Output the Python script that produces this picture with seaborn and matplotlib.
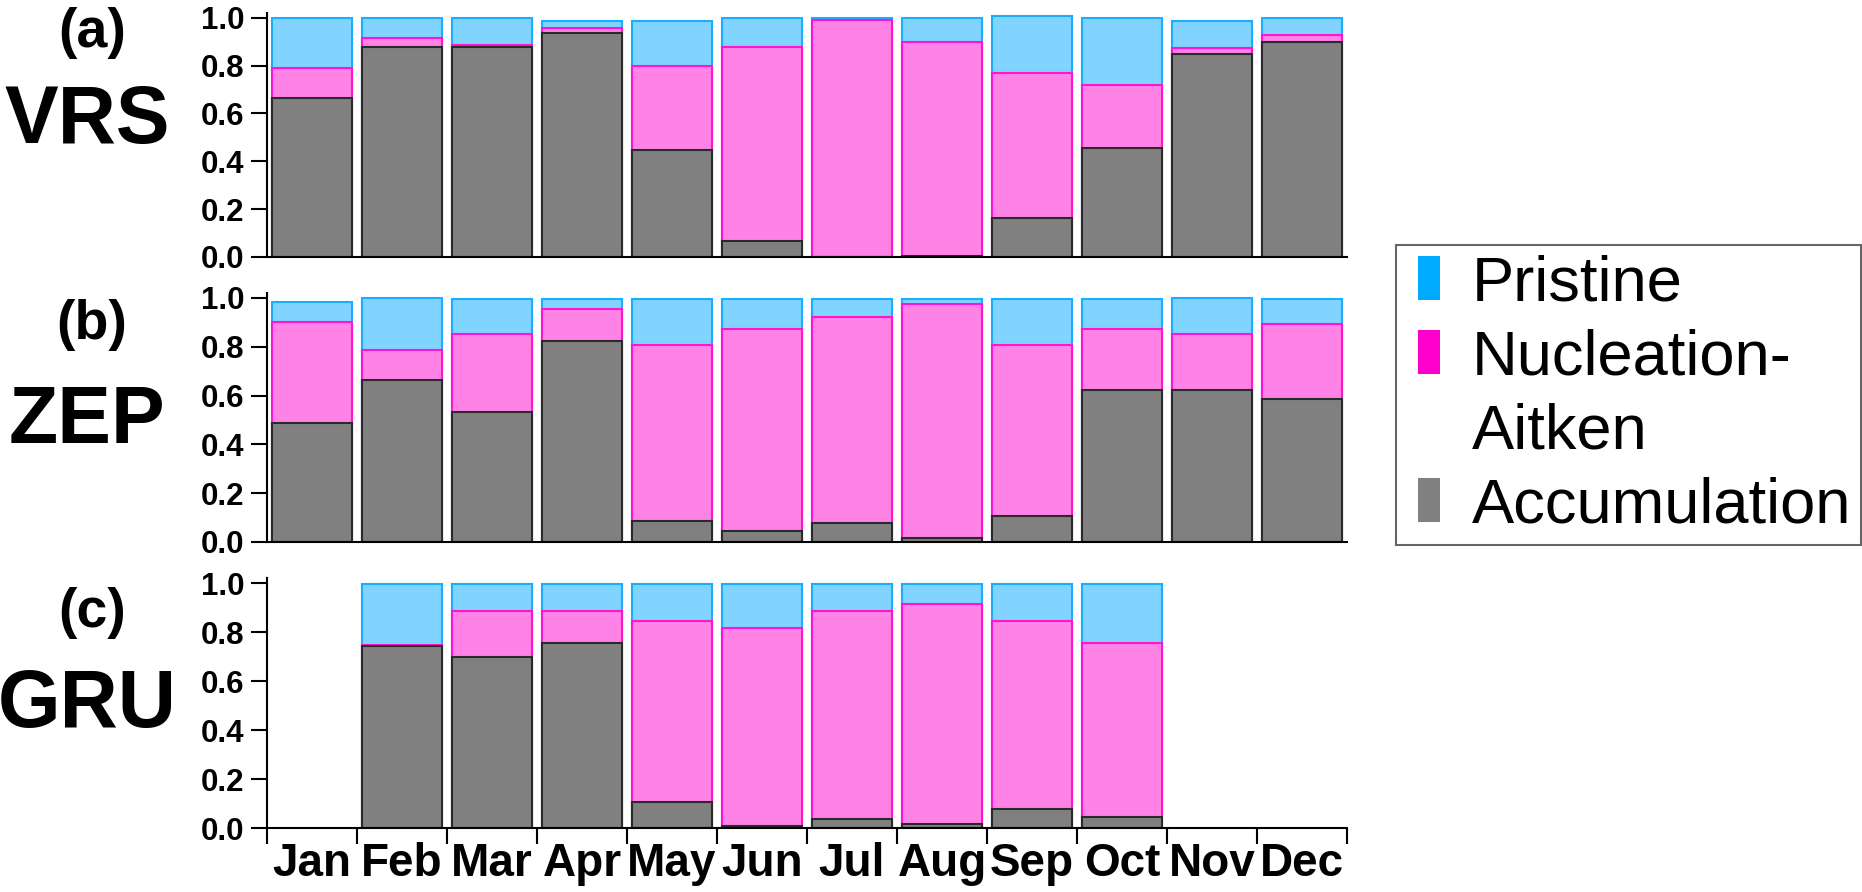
import numpy as np
import matplotlib
matplotlib.use("Agg")
import matplotlib.pyplot as plt
import seaborn as sns
from matplotlib.lines import Line2D
from matplotlib.transforms import blended_transform_factory

months = ["Jan", "Feb", "Mar", "Apr", "May", "Jun",
          "Jul", "Aug", "Sep", "Oct", "Nov", "Dec"]
stations = ["VRS", "ZEP", "GRU"]
panel_tags = ["(a)", "(b)", "(c)"]
classes = ["Pristine", "Nucleation-Aitken", "Accumulation"]

# monthly fraction of each cluster class (NaN = no data)
vrs_accumulation = [0.665, 0.88, 0.88, 0.935, 0.446, 0.067, 0.0, 0.005, 0.164, 0.456, 0.848, 0.897]
vrs_nucleation = [0.125, 0.037, 0.007, 0.024, 0.354, 0.813, 0.989, 0.892, 0.606, 0.262, 0.025, 0.031]
vrs_pristine = [0.21, 0.083, 0.113, 0.027, 0.186, 0.119, 0.009, 0.103, 0.238, 0.282, 0.115, 0.072]

zep_accumulation = [0.486, 0.664, 0.533, 0.825, 0.087, 0.046, 0.077, 0.015, 0.107, 0.623, 0.623, 0.585]
zep_nucleation = [0.417, 0.123, 0.319, 0.129, 0.719, 0.826, 0.846, 0.960, 0.699, 0.250, 0.229, 0.308]
zep_pristine = [0.079, 0.212, 0.143, 0.041, 0.189, 0.123, 0.072, 0.020, 0.189, 0.122, 0.149, 0.102]

nan = np.nan
gru_accumulation = [nan, 0.743, 0.697, 0.754, 0.107, 0.008, 0.038, 0.016, 0.079, 0.046, nan, nan]
gru_nucleation = [nan, 0.004, 0.189, 0.132, 0.738, 0.807, 0.848, 0.901, 0.766, 0.708, nan, nan]
gru_pristine = [nan, 0.249, 0.110, 0.110, 0.151, 0.181, 0.110, 0.079, 0.151, 0.242, nan, nan]

station_data = {
    "VRS": (vrs_accumulation, vrs_nucleation, vrs_pristine),
    "ZEP": (zep_accumulation, zep_nucleation, zep_pristine),
    "GRU": (gru_accumulation, gru_nucleation, gru_pristine),
}

fill_colors = {"Pristine": "#80D4FF", "Nucleation-Aitken": "#FF82E6", "Accumulation": "#808080"}
edge_colors = {"Pristine": "#1AAEFF", "Nucleation-Aitken": "#FF14D0", "Accumulation": "#2A2A2A"}
legend_colors = {"Pristine": "#00AAFF", "Nucleation-Aitken": "#FF00CC", "Accumulation": "#808080"}

sns.set_style("ticks")
plt.rcParams["font.family"] = ["Liberation Sans", "DejaVu Sans"]
plt.rcParams["text.color"] = "black"
plt.rcParams["xtick.color"] = "black"
plt.rcParams["ytick.color"] = "black"
plt.rcParams["axes.edgecolor"] = "black"

fig = plt.figure(figsize=(18.62, 8.92), dpi=100)
left, width = 267 / 1862, 1080 / 1862
positions = [
    [left, 0.7119, width, 0.2735],
    [left, 0.3924, width, 0.2790],
    [left, 0.0717, width, 0.2800],
]
tag_levels = [0.935, 0.89, 0.88]
name_levels = [0.565, 0.49, 0.50]

for i, station in enumerate(stations):
    ax = fig.add_axes(positions[i])
    acc, nuc, pri = (np.array(v, dtype=float) for v in station_data[station])
    tops = {
        "Pristine": acc + nuc + pri,
        "Nucleation-Aitken": acc + nuc,
        "Accumulation": acc,
    }
    # draw back to front so each layer shows as a stacked segment
    for cls in classes:
        sns.barplot(x=months, y=tops[cls], order=months, color=fill_colors[cls],
                    edgecolor=edge_colors[cls], linewidth=1.5, width=0.89,
                    saturation=1, errorbar=None, ax=ax)

    ax.set_xlim(-0.5, 11.5)
    ax.set_ylim(0, 1.02)
    ax.set_yticks(np.arange(0, 1.01, 0.2))
    ax.set_yticklabels([f"{v:.1f}" for v in np.arange(0, 1.01, 0.2)],
                       fontweight="bold")
    ax.tick_params(axis="y", direction="out", length=11.5, width=1.5,
                   labelsize=22.5, pad=5)
    ax.set_xlabel("")
    ax.set_ylabel("")
    for side in ["top", "right"]:
        ax.spines[side].set_visible(False)
    for side in ["left", "bottom"]:
        ax.spines[side].set_linewidth(1.5)

    if i < 2:
        ax.set_xticks([])
    else:
        ax.set_xticks(np.arange(-0.5, 12, 1))
        ax.set_xticklabels([])
        ax.set_xticks(np.arange(12), minor=True)
        ax.set_xticklabels(months, minor=True, fontweight="bold")
        ax.tick_params(axis="x", which="major", direction="out", length=11.5, width=1.5)
        ax.tick_params(axis="x", which="minor", length=0, labelsize=33, pad=10)

    trans = blended_transform_factory(fig.transFigure, ax.transData)
    ax.text(0.0495, tag_levels[i], panel_tags[i], transform=trans, ha="center",
            va="center", fontsize=40, fontweight="bold")
    ax.text(0.0467, name_levels[i], station, transform=trans, ha="center",
            va="center", fontsize=58, fontweight="bold")

# tall narrow rectangle marker for the legend swatches
rect = [(-0.256, -0.5), (0.256, -0.5), (0.256, 0.5), (-0.256, 0.5), (-0.256, -0.5)]
handles = [
    Line2D([], [], ls="none", marker=rect, markersize=31,
           markerfacecolor=legend_colors["Pristine"], markeredgewidth=0),
    Line2D([], [], ls="none", marker=rect, markersize=31,
           markerfacecolor=legend_colors["Nucleation-Aitken"], markeredgewidth=0),
    Line2D([], [], ls="none", marker=None),
    Line2D([], [], ls="none", marker=rect, markersize=31,
           markerfacecolor=legend_colors["Accumulation"], markeredgewidth=0),
]
labels = ["Pristine", "Nucleation-", "Aitken", "Accumulation"]
leg = fig.legend(handles, labels, loc="upper left",
                 bbox_to_anchor=(1396 / 1862, 1 - 245 / 892), fontsize=45.5,
                 frameon=True, fancybox=False, edgecolor="#404040",
                 handlelength=0.76, handleheight=0.7, handletextpad=0.29,
                 labelspacing=0.235, borderpad=0.15, borderaxespad=0)
leg.get_frame().set_linewidth(1.5)

fig.savefig("out.png", dpi=100)
